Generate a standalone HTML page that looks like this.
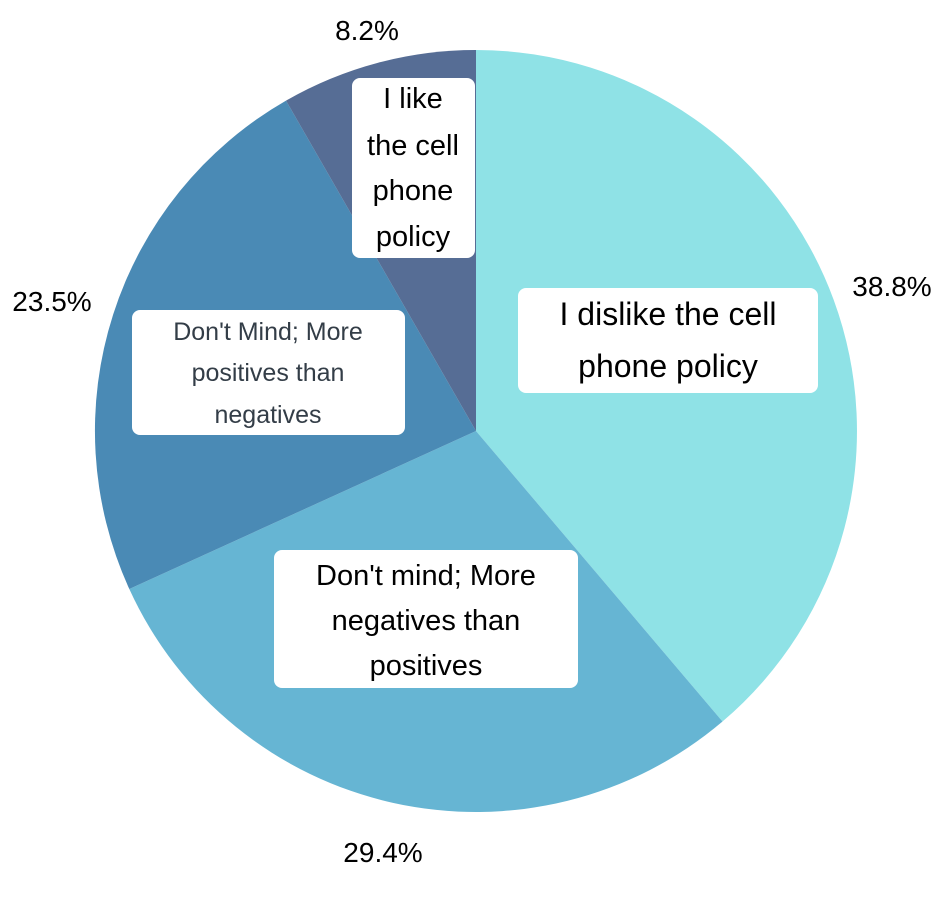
<!DOCTYPE html>
<html><head><style>
html,body{margin:0;padding:0;background:#fff}
svg{display:block}
text{font-family:"Liberation Sans",sans-serif}
</style></head><body>
<svg width="946" height="901" viewBox="0 0 946 901">
<path d="M476,431 L476,50 A381,381 0 0 1 722.5,721.5 Z" fill="#8fe2e6"/>
<path d="M476,431 L722.5,721.5 A381,381 0 0 1 129.3,589 Z" fill="#66b5d3"/>
<path d="M476,431 L129.3,589 A381,381 0 0 1 286,100.6 Z" fill="#4a8ab5"/>
<path d="M476,431 L286,100.6 A381,381 0 0 1 476,50 Z" fill="#566d95"/>

<rect x="518" y="288" width="300" height="105" rx="8" fill="#fff"/>
<text x="668" y="325" font-size="32" text-anchor="middle" fill="#000">I dislike the cell</text>
<text x="668" y="377" font-size="32" text-anchor="middle" fill="#000">phone policy</text>

<rect x="274" y="550" width="304" height="138" rx="8" fill="#fff"/>
<text x="426" y="585" font-size="29" text-anchor="middle" fill="#000">Don't mind; More</text>
<text x="426" y="630" font-size="29" text-anchor="middle" fill="#000">negatives than</text>
<text x="426" y="675" font-size="29" text-anchor="middle" fill="#000">positives</text>

<rect x="132" y="310" width="273" height="125" rx="8" fill="#fff"/>
<text x="268" y="340" font-size="25" text-anchor="middle" fill="#333d47">Don't Mind; More</text>
<text x="268" y="381" font-size="25" text-anchor="middle" fill="#333d47">positives than</text>
<text x="268" y="423" font-size="25" text-anchor="middle" fill="#333d47">negatives</text>

<rect x="352" y="78" width="123" height="180" rx="8" fill="#fff"/>
<text x="413" y="108" font-size="29" text-anchor="middle" fill="#000">I like</text>
<text x="413" y="155" font-size="29" text-anchor="middle" fill="#000">the cell</text>
<text x="413" y="200" font-size="29" text-anchor="middle" fill="#000">phone</text>
<text x="413" y="246" font-size="29" text-anchor="middle" fill="#000">policy</text>

<text x="367" y="40" font-size="28" text-anchor="middle" fill="#000">8.2%</text>
<text x="892" y="296" font-size="28" text-anchor="middle" fill="#000">38.8%</text>
<text x="52" y="311" font-size="28" text-anchor="middle" fill="#000">23.5%</text>
<text x="383" y="862" font-size="28" text-anchor="middle" fill="#000">29.4%</text>
</svg>
</body></html>
